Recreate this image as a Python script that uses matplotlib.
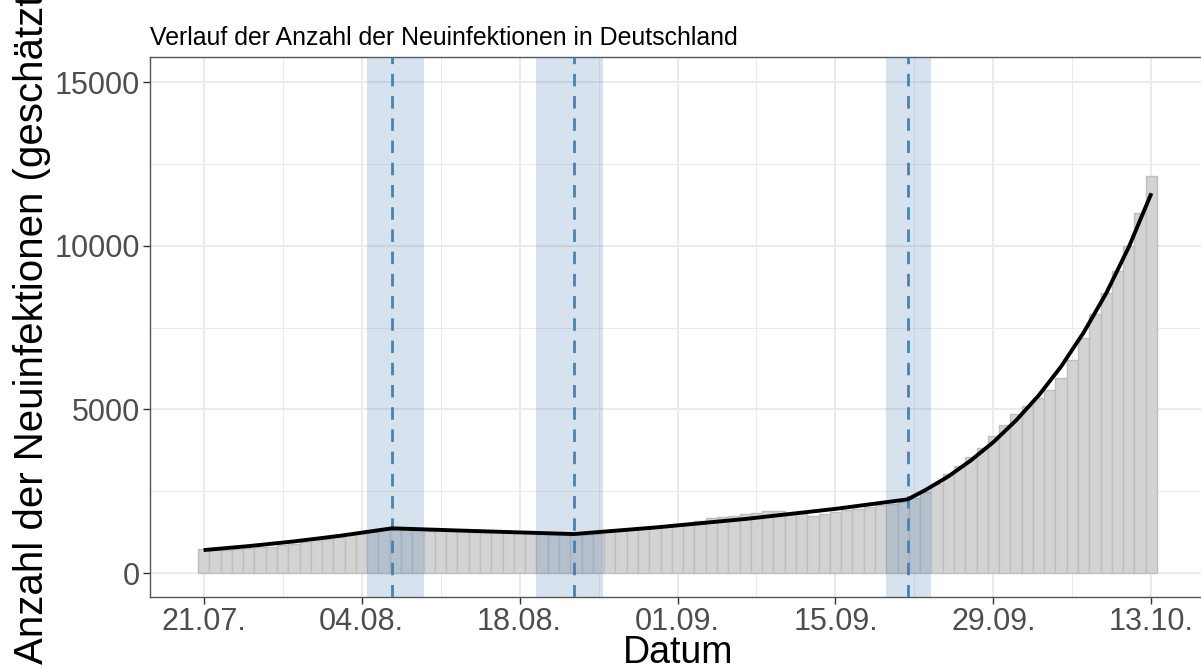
import numpy as np
import pandas as pd
import matplotlib
matplotlib.use("Agg")
import matplotlib.pyplot as plt
import matplotlib.dates as mdates

plt.rcParams['font.family'] = ['Liberation Sans', 'DejaVu Sans']

# daily new infections (estimated), 21.07. - 13.10.
start = pd.Timestamp("2020-07-21")
dates = pd.date_range(start, "2020-10-13", freq="D")
cases = [724, 690, 705, 724, 755, 780, 804, 850, 900, 957,
         1000, 1050, 1110, 1160, 1212, 1260, 1300, 1313, 1310, 1300,
         1290, 1280, 1275, 1270, 1265, 1260, 1250, 1240, 1230, 1210,
         1180, 1170, 1165, 1160, 1165, 1200, 1250, 1290, 1330, 1360,
         1400, 1450, 1500, 1540, 1588, 1670, 1720, 1750, 1802, 1842,
         1893, 1893, 1842, 1842, 1750, 1790, 1863, 1914, 1970, 2025,
         2076, 2120, 2180, 2300, 2480, 2720, 3023, 3268, 3532, 3827,
         4184, 4520, 4846, 5100, 5335, 5589, 5966, 6505, 7187, 7910,
         8561, 9233, 9997, 10985, 12124]

# fitted segmented curve (days after 21.07.)
fit_day = [0, 4, 8, 12, 16.7, 24, 32.8, 40, 48, 56, 62.4,
           64, 66, 68, 70, 72, 74, 76, 78, 80, 82, 84]
fit_val = [700, 822, 965, 1133, 1365, 1283, 1190, 1390, 1650, 1960, 2250,
           2540, 2950, 3440, 4000, 4660, 5420, 6310, 7350, 8550, 9960, 11600]

# breakpoints with confidence intervals (days after 21.07.)
bp_day = [16.7, 32.8, 62.4]
bp_lo = [14.5, 29.5, 60.5]
bp_hi = [19.5, 35.4, 64.5]

t0 = mdates.date2num(start)
x = mdates.date2num(dates)

fig = plt.figure(figsize=(12.01, 6.71), dpi=100)
ax = fig.add_axes([150 / 1201, 1 - 597 / 671, 1055 / 1201, 540 / 671])

ax.bar(x, cases, width=1.0, color='#D3D3D3', edgecolor='#BEBEBE',
       linewidth=1.0, zorder=2)
for lo, hi in zip(bp_lo, bp_hi):
    ax.axvspan(t0 + lo, t0 + hi, color='#4682B4', alpha=0.22, lw=0, zorder=3)
for d in bp_day:
    ax.axvline(t0 + d, color='#4682B4', lw=2.0, dashes=(4.5, 3.5), zorder=4)
ax.plot(t0 + np.array(fit_day), fit_val, color='black', lw=2.8,
        solid_capstyle='butt', zorder=5)

ax.set_xlim(t0 - 4.75, t0 + 88.75)
ax.set_ylim(-733, 15764)

major = pd.date_range(start, "2020-10-13", freq="14D")
minor = pd.date_range(start + pd.Timedelta(days=7), "2020-10-13", freq="14D")
ax.set_xticks(mdates.date2num(major))
ax.set_xticklabels([d.strftime("%d.%m.") for d in major])
ax.set_xticks(mdates.date2num(minor), minor=True)
ax.set_yticks([0, 5000, 10000, 15000])
ax.set_yticks([2500, 7500, 12500], minor=True)

ax.grid(True, which='major', color='#EBEBEB', lw=1.4, zorder=0)
ax.grid(True, which='minor', color='#EBEBEB', lw=0.7, zorder=0)
ax.set_axisbelow(True)
ax.tick_params(which='major', length=5, width=1, color='#333333',
               labelcolor='#4D4D4D', labelsize=22, pad=2)
ax.tick_params(which='minor', length=0)
for s in ax.spines.values():
    s.set_color('#555555')
    s.set_linewidth(1.0)

fig.text(150 / 1201, 1 - 45 / 671, "Verlauf der Anzahl der Neuinfektionen in Deutschland",
         fontsize=17.9, ha='left', va='baseline')
fig.text(678 / 1201, 1 - 653 / 671, "Datum", fontsize=27, ha='center', va='center')
# the y title is longer than the panel and runs off the top edge, as in the original
fig.text(32 / 1201, 1 - 323 / 671, "Anzahl der Neuinfektionen (geschätzt)",
         fontsize=29, ha='center', va='center', rotation=90)

fig.savefig("out.png", dpi=100)
